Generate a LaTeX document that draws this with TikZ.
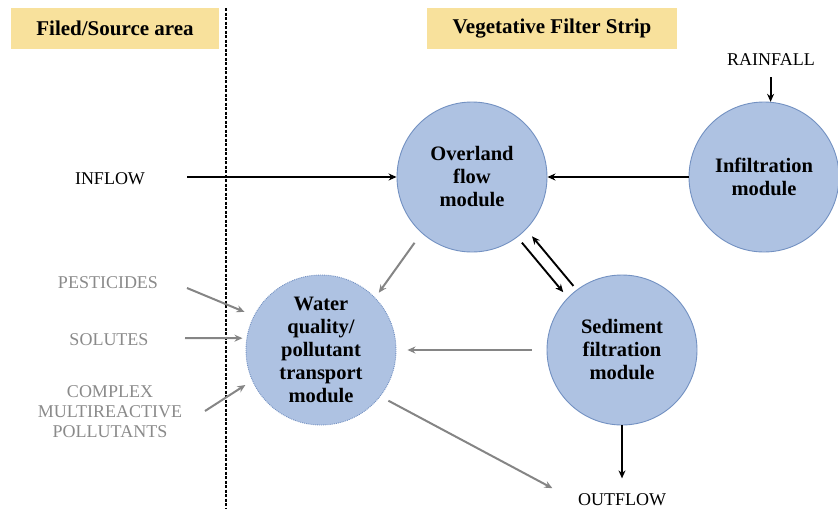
\documentclass[tikz,border=0pt]{standalone}
\usepackage{fontspec}
\setmainfont{Liberation Serif}
\usetikzlibrary{arrows.meta}
\definecolor{modfill}{HTML}{AEC2E2}
\definecolor{modline}{HTML}{7391C2}
\definecolor{hdrfill}{HTML}{F8E19C}
\definecolor{greytxt}{HTML}{8A8A8A}
\definecolor{greyarr}{HTML}{858585}
\begin{document}
\begin{tikzpicture}[x=1pt,y=-1pt,
  hdrbox/.style={fill=hdrfill, draw=none, minimum height=41pt, inner sep=0pt,
    font=\bfseries\fontsize{21}{24}\selectfont},
  module/.style={circle, fill=modfill, draw=modline, line width=0.9pt,
    minimum size=150pt, inner sep=0pt, align=center,
    font=\bfseries\fontsize{20.5}{23}\selectfont},
  lbl/.style={font=\fontsize{18}{20}\selectfont, align=center},
  glbl/.style={lbl, text=greytxt},
  blk/.style={draw=black, line width=1.9pt, -{Stealth[length=8pt,width=7pt]}},
  gry/.style={draw=greyarr, line width=2pt, -{Stealth[length=8pt,width=7pt]}}
]
\useasboundingbox (0,0) rectangle (838,512);

% headers
\node[hdrbox, minimum width=208pt] (hsrc) at (115,28.5) {Filed/Source area};
\node[hdrbox, minimum width=250pt] (hvfs) at (552,28.5) {Vegetative Filter Strip};

% dashed divider
\coordinate (dtop) at (226,8);
\coordinate (dbot) at (226,508);
\draw[line width=1.4pt, dash pattern=on 3pt off 1.5pt] (dtop) -- (dbot);

% modules
\node[module] (ov) at (472,177) {Overland\\flow\\module};
\node[module] (inf) at (764,177) {Infiltration\\module};
\node[module, densely dotted] (wq) at (321,350) {Water\\quality/\\pollutant\\transport\\module};
\node[module] (sed) at (622,350) {Sediment\\filtration\\module};

% labels
\node[lbl] (inflow) at (110,179) {INFLOW};
\node[lbl] (rain) at (771,60) {RAINFALL};
\node[lbl] (outflow) at (622,500) {OUTFLOW};
\node[glbl] (pest) at (108,283) {PESTICIDES};
\node[glbl] (sol) at (109,340) {SOLUTES};
\node[glbl] (cmp) at (110,412) {COMPLEX\\MULTIREACTIVE\\POLLUTANTS};

% free tails
\coordinate (inflowT) at (187,177);
\coordinate (pestT) at (187,288);
\coordinate (solT) at (185,338);
\coordinate (cmpT) at (205,411);

% black arrows
\draw[blk] (inflowT) -- (ov.west);
\draw[blk] (inf.west) -- (ov.east);
\draw[blk, shorten <=8pt] (rain.south -| inf.85) -- (inf.85);
\draw[blk, shorten <=7pt, shorten >=7pt] (ov.307) -- (sed.136);
\draw[blk, shorten <=5pt, shorten >=9pt] (sed.127) -- (ov.316);
\draw[blk, shorten >=12pt] (sed.south) -- (outflow.north);

% grey arrows
\draw[gry, shorten <=12pt, shorten >=6pt] (ov.228) -- (wq.44);
\draw[gry, shorten <=15pt, shorten >=11pt] (sed.west) -- (wq.east);
\draw[gry, shorten <=9pt, shorten >=25pt] (wq.322) -- (outflow.west);
\draw[gry, shorten >=10pt] (pestT) -- (wq.153);
\draw[gry, shorten >=4pt] (solT) -- (wq.171);
\draw[gry, shorten >=8pt] (cmpT) -- (wq.204);
\end{tikzpicture}
\end{document}
